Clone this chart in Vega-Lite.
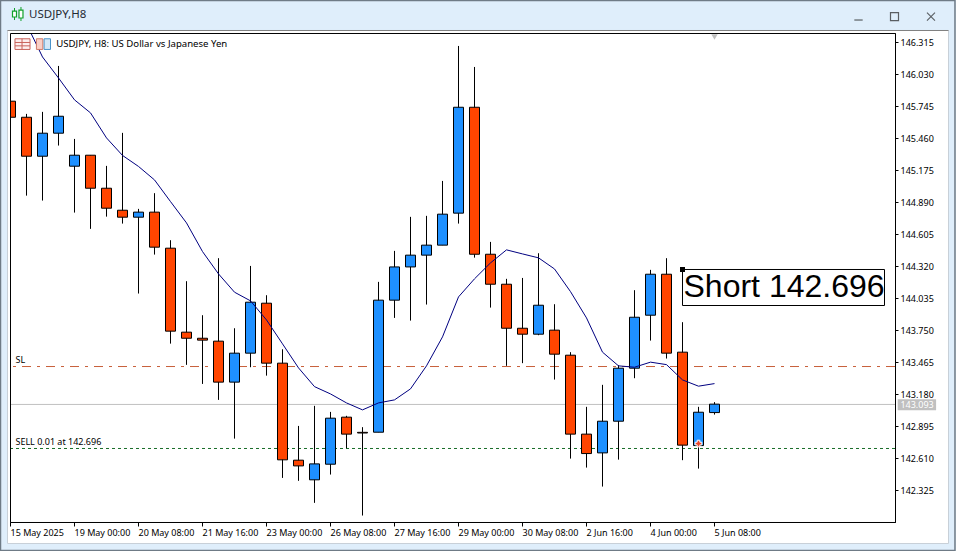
{
"$schema":"https://vega.github.io/schema/vega-lite/v6.json",
"width":885,"height":489,
"padding":{"left":10,"top":33,"right":61,"bottom":29},
"autosize":"none",
"background":"#dfeefb",
"config":{"view":{"stroke":null},"font":"Noto Sans"},
"datasets":{"candles":[
{"i":0,"open":145.789,"high":145.789,"low":145.646,"close":145.646,"dir":"down","ma":146.78},
{"i":1,"open":145.646,"high":145.676,"low":144.948,"close":145.299,"dir":"down","ma":146.477},
{"i":2,"open":145.299,"high":145.694,"low":144.904,"close":145.504,"dir":"up","ma":146.183},
{"i":3,"open":145.504,"high":146.103,"low":145.394,"close":145.655,"dir":"up","ma":145.996},
{"i":4,"open":145.21,"high":145.453,"low":144.797,"close":145.308,"dir":"up","ma":145.801},
{"i":5,"open":145.308,"high":145.308,"low":144.652,"close":145.014,"dir":"down","ma":145.685},
{"i":6,"open":145.014,"high":145.213,"low":144.761,"close":144.836,"dir":"down","ma":145.462},
{"i":7,"open":144.818,"high":145.507,"low":144.699,"close":144.756,"dir":"down","ma":145.306},
{"i":8,"open":144.756,"high":144.83,"low":144.076,"close":144.801,"dir":"up","ma":145.208},
{"i":9,"open":144.801,"high":144.97,"low":144.423,"close":144.489,"dir":"down","ma":145.088},
{"i":10,"open":144.48,"high":144.551,"low":143.63,"close":143.741,"dir":"down","ma":144.895},
{"i":11,"open":143.732,"high":144.186,"low":143.441,"close":143.678,"dir":"down","ma":144.705},
{"i":12,"open":143.678,"high":143.883,"low":143.271,"close":143.661,"dir":"down","ma":144.45},
{"i":13,"open":143.652,"high":144.391,"low":143.129,"close":143.287,"dir":"down","ma":144.251},
{"i":14,"open":143.287,"high":143.767,"low":142.784,"close":143.545,"dir":"up","ma":144.088},
{"i":15,"open":143.545,"high":144.322,"low":143.42,"close":143.999,"dir":"up","ma":144.011},
{"i":16,"open":143.99,"high":144.061,"low":143.345,"close":143.456,"dir":"down","ma":143.841},
{"i":17,"open":143.456,"high":143.58,"low":142.434,"close":142.595,"dir":"down","ma":143.628},
{"i":18,"open":142.592,"high":142.897,"low":142.408,"close":142.541,"dir":"down","ma":143.414},
{"i":19,"open":142.417,"high":143.076,"low":142.212,"close":142.559,"dir":"up","ma":143.247},
{"i":20,"open":142.556,"high":143.022,"low":142.464,"close":142.966,"dir":"up","ma":143.182},
{"i":21,"open":142.975,"high":142.987,"low":142.699,"close":142.824,"dir":"down","ma":143.102},
{"i":22,"open":142.84,"high":142.886,"low":142.099,"close":142.834,"dir":"down","ma":143.04},
{"i":23,"open":142.841,"high":144.18,"low":142.841,"close":144.017,"dir":"up","ma":143.102},
{"i":24,"open":144.017,"high":144.456,"low":143.859,"close":144.313,"dir":"up","ma":143.129},
{"i":25,"open":144.313,"high":144.759,"low":143.835,"close":144.418,"dir":"up","ma":143.227},
{"i":26,"open":144.418,"high":144.768,"low":143.978,"close":144.507,"dir":"up","ma":143.432},
{"i":27,"open":144.507,"high":145.079,"low":144.507,"close":144.783,"dir":"up","ma":143.69},
{"i":28,"open":144.792,"high":146.281,"low":144.699,"close":145.735,"dir":"up","ma":144.046},
{"i":29,"open":145.735,"high":146.094,"low":144.396,"close":144.426,"dir":"down","ma":144.207},
{"i":30,"open":144.426,"high":144.536,"low":143.951,"close":144.159,"dir":"down","ma":144.349},
{"i":31,"open":144.159,"high":144.207,"low":143.432,"close":143.767,"dir":"down","ma":144.465},
{"i":32,"open":143.767,"high":144.215,"low":143.456,"close":143.714,"dir":"down","ma":144.429},
{"i":33,"open":143.714,"high":144.435,"low":143.705,"close":143.972,"dir":"up","ma":144.394},
{"i":34,"open":143.75,"high":143.981,"low":143.31,"close":143.536,"dir":"down","ma":144.295},
{"i":35,"open":143.527,"high":143.554,"low":142.606,"close":142.824,"dir":"down","ma":144.093},
{"i":36,"open":142.824,"high":143.067,"low":142.526,"close":142.651,"dir":"down","ma":143.859},
{"i":37,"open":142.657,"high":143.263,"low":142.357,"close":142.939,"dir":"up","ma":143.554},
{"i":38,"open":142.939,"high":143.438,"low":142.597,"close":143.411,"dir":"up","ma":143.432},
{"i":39,"open":143.411,"high":144.106,"low":143.322,"close":143.865,"dir":"up","ma":143.42},
{"i":40,"open":143.883,"high":144.287,"low":143.657,"close":144.248,"dir":"up","ma":143.465},
{"i":41,"open":144.248,"high":144.391,"low":143.497,"close":143.545,"dir":"down","ma":143.443},
{"i":42,"open":143.554,"high":143.821,"low":142.592,"close":142.726,"dir":"down","ma":143.307},
{"i":43,"open":142.722,"high":143.067,"low":142.517,"close":143.019,"dir":"up","ma":143.251},
{"i":44,"open":143.016,"high":143.109,"low":142.998,"close":143.091,"dir":"up","ma":143.274}
],
"levels":[
{"name":"SL","price":143.426},
{"name":"bid","price":143.0885},
{"name":"entry","price":142.696}
]},
"data":{"values":[{}]},
"layer":[
{"mark":{"type":"rect","fill":"#ffffff","stroke":"#c8d0d8","strokeWidth":1,"clip":false},
 "encoding":{"x":{"datum":-0.1875,"type":"quantitative","scale":{"domain":[-0.03125,55.28125],"nice":false,"zero":false,"padding":0},
   "axis":{"orient":"bottom","title":null,"grid":false,"values":[0,4,8,12,16,20,24,28,32,36,40,44],"tickCount":30,"tickRound":false,"tickOffset":-0.5,"labelExpr":"['15 May 2025','19 May 00:00','20 May 08:00','21 May 16:00','23 May 00:00','26 May 08:00','27 May 16:00','29 May 00:00','30 May 08:00','2 Jun 16:00','4 Jun 00:00','5 Jun 08:00'][datum.value/4]","labelAlign":"left","labelBaseline":"middle","labelPadding":6,"labelFont":"Noto Sans","labelFontSize":9,"labelColor":"#000000","tickColor":"#000000","tickSize":4,"domainColor":"#000000","labelOverlap":false,"labelBound":false,"labelFlush":false,"zindex":1}},
  "x2":{"datum":58.625},
  "y":{"datum":146.4187,"type":"quantitative","scale":{"domain":[142.0414,146.3964],"nice":false,"zero":false,"padding":0},
   "axis":{"orient":"right","title":null,"grid":false,"values":[142.325,142.61,142.895,143.18,143.465,143.75,144.035,144.32,144.605,144.89,145.175,145.46,145.745,146.03,146.315],"tickCount":30,"format":".3f","labelPadding":2,"labelFont":"Noto Sans","labelFontSize":9,"labelColor":"#000000","tickColor":"#000000","tickSize":3,"domainColor":"#000000","labelOverlap":false,"labelBound":false,"labelFlush":false,"zindex":1}},
  "y2":{"datum":141.85}}},
{"mark":{"type":"rule","stroke":"#808080","strokeWidth":1,"clip":false},
 "encoding":{"x":{"datum":-0.1875,"type":"quantitative"},"x2":{"datum":58.625},"y":{"datum":146.4187,"type":"quantitative"}}},
{"mark":{"type":"rect","fill":null,"stroke":"#6f7b86","strokeWidth":1.5,"clip":false},
 "encoding":{"x":{"datum":-0.625,"type":"quantitative"},"x2":{"datum":59.03},"y":{"datum":146.6858,"type":"quantitative"},"y2":{"datum":141.7876}}},
{"mark":{"type":"text","align":"left","baseline":"middle","font":"Noto Sans","fontSize":11.5,"color":"#1f2a33","text":"USDJPY,H8","clip":false},
 "encoding":{"x":{"datum":1.16,"type":"quantitative"},"y":{"datum":146.557,"type":"quantitative"}}},
{"mark":{"type":"rule","stroke":"#12a12a","strokeWidth":1,"clip":false},
 "encoding":{"x":{"datum":0.25,"type":"quantitative"},"y":{"datum":146.619,"type":"quantitative"},"y2":{"datum":146.512}}},
{"mark":{"type":"rule","stroke":"#12a12a","strokeWidth":1,"clip":false},
 "encoding":{"x":{"datum":0.655,"type":"quantitative"},"y":{"datum":146.628,"type":"quantitative"},"y2":{"datum":146.503}}},
{"mark":{"type":"rect","fill":"#ffffff","stroke":"#12a12a","strokeWidth":1.2,"clip":false},
 "encoding":{"x":{"datum":0.125,"type":"quantitative"},"x2":{"datum":0.375},"y":{"datum":146.592,"type":"quantitative"},"y2":{"datum":146.539}}},
{"mark":{"type":"rect","fill":"#ffffff","stroke":"#12a12a","strokeWidth":1.2,"clip":false},
 "encoding":{"x":{"datum":0.53,"type":"quantitative"},"x2":{"datum":0.78},"y":{"datum":146.601,"type":"quantitative"},"y2":{"datum":146.53}}},
{"mark":{"type":"point","shape":"M-1,0L1,0","filled":false,"stroke":"#222222","strokeWidth":1.2,"size":70,"clip":false},
 "encoding":{"x":{"datum":53.0,"type":"quantitative"},"y":{"datum":146.512,"type":"quantitative"}}},
{"mark":{"type":"point","shape":"square","filled":false,"stroke":"#222222","strokeWidth":1.2,"size":64,"clip":false},
 "encoding":{"x":{"datum":55.25,"type":"quantitative"},"y":{"datum":146.542,"type":"quantitative"}}},
{"mark":{"type":"point","shape":"M-1,-1L1,1M-1,1L1,-1","filled":false,"stroke":"#222222","strokeWidth":1.1,"size":64,"clip":false},
 "encoding":{"x":{"datum":57.53,"type":"quantitative"},"y":{"datum":146.542,"type":"quantitative"}}},
{"data":{"name":"levels"},"transform":[{"filter":"datum.name==='bid'"}],
 "mark":{"type":"rule","stroke":"#c0c0c0","strokeWidth":1,"clip":true},
 "encoding":{"y":{"field":"price","type":"quantitative"}}},
{"data":{"name":"levels"},"transform":[{"filter":"datum.name==='SL'"}],
 "mark":{"type":"rule","stroke":"#c8603a","strokeWidth":1,"strokeDash":[9,6,3,6],"clip":true},
 "encoding":{"y":{"field":"price","type":"quantitative"}}},
{"data":{"name":"levels"},"transform":[{"filter":"datum.name==='entry'"}],
 "mark":{"type":"rule","stroke":"#1a6e2a","strokeWidth":1,"strokeDash":[3,3],"clip":true},
 "encoding":{"y":{"field":"price","type":"quantitative"}}},
{"data":{"name":"candles"},"mark":{"type":"rule","stroke":"#000000","strokeWidth":1,"clip":true},
 "encoding":{"x":{"field":"i","type":"quantitative"},"y":{"field":"low","type":"quantitative"},"y2":{"field":"high"}}},
{"data":{"name":"candles"},"mark":{"type":"bar","orient":"vertical","size":10,"stroke":"#000000","strokeWidth":1,"clip":true},
 "encoding":{"x":{"field":"i","type":"quantitative"},"y":{"field":"open","type":"quantitative"},"y2":{"field":"close"},
  "color":{"field":"dir","type":"nominal","legend":null,"scale":{"domain":["up","down"],"range":["#1e90ff","#ff4500"]}}}},
{"data":{"name":"candles"},"mark":{"type":"line","stroke":"#000080","strokeWidth":1,"clip":true},
 "encoding":{"x":{"field":"i","type":"quantitative"},"y":{"field":"ma","type":"quantitative"}}},
{"mark":{"type":"point","shape":"cross","filled":true,"fill":"#e8452a","stroke":"#ffffff","strokeWidth":1,"size":45,"opacity":1},
 "encoding":{"x":{"datum":43,"type":"quantitative"},"y":{"datum":142.74,"type":"quantitative"}}},
{"mark":{"type":"point","shape":"triangle-down","filled":true,"fill":"#c0c0c0","stroke":null,"size":40,"opacity":1},
 "encoding":{"x":{"datum":44,"type":"quantitative"},"y":{"datum":146.36,"type":"quantitative"}}},
{"mark":{"type":"rect","fill":"#fdeeee","stroke":"#c9635c","strokeWidth":1,"clip":false},
 "encoding":{"x":{"datum":0.28,"type":"quantitative"},"x2":{"datum":1.22},"y":{"datum":146.345,"type":"quantitative"},"y2":{"datum":146.25}}},
{"mark":{"type":"rule","stroke":"#c9635c","strokeWidth":1,"clip":false},
 "encoding":{"x":{"datum":0.28,"type":"quantitative"},"x2":{"datum":1.22},"y":{"datum":146.312,"type":"quantitative"}}},
{"mark":{"type":"rule","stroke":"#c9635c","strokeWidth":1,"clip":false},
 "encoding":{"x":{"datum":0.28,"type":"quantitative"},"x2":{"datum":1.22},"y":{"datum":146.282,"type":"quantitative"}}},
{"mark":{"type":"rule","stroke":"#c9635c","strokeWidth":1,"clip":false},
 "encoding":{"x":{"datum":0.72,"type":"quantitative"},"y":{"datum":146.345,"type":"quantitative"},"y2":{"datum":146.25}}},
{"mark":{"type":"rect","fill":"#f9cfc6","stroke":"#d07a6a","strokeWidth":1,"clip":false},
 "encoding":{"x":{"datum":1.62,"type":"quantitative"},"x2":{"datum":2.02},"y":{"datum":146.345,"type":"quantitative"},"y2":{"datum":146.25}}},
{"mark":{"type":"rect","fill":"#d3e8f8","stroke":"#4a93c8","strokeWidth":1,"clip":false},
 "encoding":{"x":{"datum":2.1,"type":"quantitative"},"x2":{"datum":2.5},"y":{"datum":146.345,"type":"quantitative"},"y2":{"datum":146.25}}},
{"mark":{"type":"text","align":"left","baseline":"middle","font":"Noto Sans","fontSize":9.6,"color":"#000000","text":"USDJPY, H8:  US Dollar vs Japanese Yen"},
 "encoding":{"x":{"datum":2.86,"type":"quantitative"},"y":{"datum":146.297,"type":"quantitative"}}},
{"mark":{"type":"text","align":"left","baseline":"middle","font":"Noto Sans","fontSize":9,"color":"#000000","text":"SL"},
 "encoding":{"x":{"datum":0.31,"type":"quantitative"},"y":{"datum":143.485,"type":"quantitative"}}},
{"mark":{"type":"text","align":"left","baseline":"middle","font":"Noto Sans","fontSize":9,"color":"#000000","text":"SELL 0.01 at 142.696"},
 "encoding":{"x":{"datum":0.31,"type":"quantitative"},"y":{"datum":142.755,"type":"quantitative"}}},
{"mark":{"type":"rect","fill":"#ffffff","stroke":"#000000","strokeWidth":1,"clip":false},
 "encoding":{"x":{"datum":42,"type":"quantitative"},"x2":{"datum":54.625},"y":{"datum":144.2902,"type":"quantitative"},"y2":{"datum":143.9695}}},
{"mark":{"type":"text","align":"left","baseline":"middle","font":"Liberation Sans","fontSize":32,"dx":1,"color":"#000000","text":"Short 142.696","clip":false},
 "encoding":{"x":{"datum":42,"type":"quantitative"},"y":{"datum":144.133,"type":"quantitative"}}},
{"mark":{"type":"point","shape":"square","filled":true,"fill":"#000000","stroke":null,"size":25,"opacity":1,"clip":false},
 "encoding":{"x":{"datum":42,"type":"quantitative"},"y":{"datum":144.2902,"type":"quantitative"}}},
{"mark":{"type":"rect","fill":"#c0c0c0","stroke":null,"clip":false},
 "encoding":{"x":{"datum":55.45,"type":"quantitative"},"x2":{"datum":57.85},"y":{"datum":143.134,"type":"quantitative"},"y2":{"datum":143.036}}},
{"mark":{"type":"text","align":"left","baseline":"middle","font":"Noto Sans","fontSize":9,"color":"#ffffff","text":"143.093","clip":false},
 "encoding":{"x":{"datum":55.62,"type":"quantitative"},"y":{"datum":143.083,"type":"quantitative"}}},
{"mark":{"type":"rect","fill":null,"stroke":"#000000","strokeWidth":1,"clip":false},
 "encoding":{"x":{"datum":0,"type":"quantitative"},"x2":{"datum":55.3125},"y":{"datum":142.037,"type":"quantitative"},"y2":{"datum":146.392}}}
]
}
